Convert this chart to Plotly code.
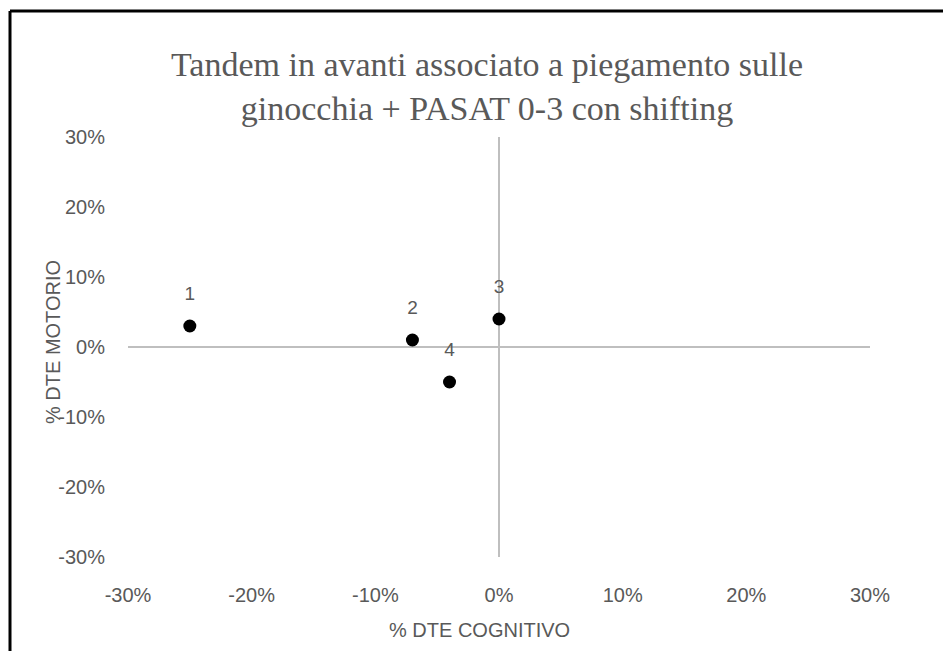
import plotly.graph_objects as go

labels = ["1", "2", "3", "4"]
dte_cognitivo = [-0.25, -0.07, 0.00, -0.04]
dte_motorio = [0.03, 0.01, 0.04, -0.05]

tick_vals = [-0.3, -0.2, -0.1, 0.0, 0.1, 0.2, 0.3]
tick_text = ["-30%", "-20%", "-10%", "0%", "10%", "20%", "30%"]

title_text = "Tandem in avanti associato a piegamento sulle<br>ginocchia + PASAT 0-3 con shifting"
x_title = "% DTE COGNITIVO"
y_title = "% DTE MOTORIO"

grey = "#595959"
axis_font = "Liberation Sans, Arial, sans-serif"

fig = go.Figure()
# points
fig.add_trace(go.Scatter(
    x=dte_cognitivo, y=dte_motorio, mode="markers",
    marker=dict(color="black", size=13),
    showlegend=False, cliponaxis=False, hoverinfo="skip",
))
# data labels (offset by an invisible larger marker)
fig.add_trace(go.Scatter(
    x=dte_cognitivo, y=dte_motorio, mode="markers+text",
    text=labels, textposition="top center",
    textfont=dict(family=axis_font, size=19, color=grey),
    marker=dict(color="rgba(0,0,0,0)", size=32),
    showlegend=False, cliponaxis=False,
))

fig.update_layout(
    width=943, height=651,
    paper_bgcolor="white", plot_bgcolor="white",
    margin=dict(l=128, r=73, t=137, b=94),
    title=dict(text=title_text, x=(487 - 128) / 742, xref="paper", xanchor="center",
               y=1 - 76 / 651, yanchor="middle",
               font=dict(family="Liberation Serif, Times New Roman, serif", size=34, color=grey)),
    xaxis=dict(range=[-0.3, 0.3], tickvals=tick_vals, ticktext=tick_text,
               showgrid=False, showline=False, zeroline=True,
               zerolinecolor="#BFBFBF", zerolinewidth=2,
               ticks="outside", ticklen=20, tickcolor="rgba(0,0,0,0)",
               tickfont=dict(family=axis_font, size=20, color=grey)),
    yaxis=dict(range=[-0.3, 0.3], tickvals=tick_vals, ticktext=tick_text,
               showgrid=False, showline=False, zeroline=True,
               zerolinecolor="#BFBFBF", zerolinewidth=2,
               ticks="outside", ticklen=18, tickcolor="rgba(0,0,0,0)",
               tickfont=dict(family=axis_font, size=20, color=grey)),
)

# axis titles as annotations
fig.add_annotation(text=x_title, xref="paper", yref="paper",
                   x=(479 - 128) / 742, y=(557 - 630) / 420,
                   xanchor="center", yanchor="middle", showarrow=False,
                   font=dict(family=axis_font, size=20, color=grey))
fig.add_annotation(text=y_title, xref="paper", yref="paper",
                   x=(53 - 128) / 742, y=(557 - 342) / 420,
                   xanchor="center", yanchor="middle", showarrow=False, textangle=-90,
                   font=dict(family=axis_font, size=20, color=grey))

# Outer chart border (top, left; extends beyond right/bottom of the view)
fig.add_shape(type="line", xref="paper", yref="paper",
              x0=(10 - 128) / 742, x1=(960 - 128) / 742,
              y0=(557 - 11) / 420, y1=(557 - 11) / 420,
              line=dict(color="black", width=3))
fig.add_shape(type="line", xref="paper", yref="paper",
              x0=(10 - 128) / 742, x1=(10 - 128) / 742,
              y0=(557 - 11) / 420, y1=(557 - 670) / 420,
              line=dict(color="black", width=3))

fig.write_html("out.html")
